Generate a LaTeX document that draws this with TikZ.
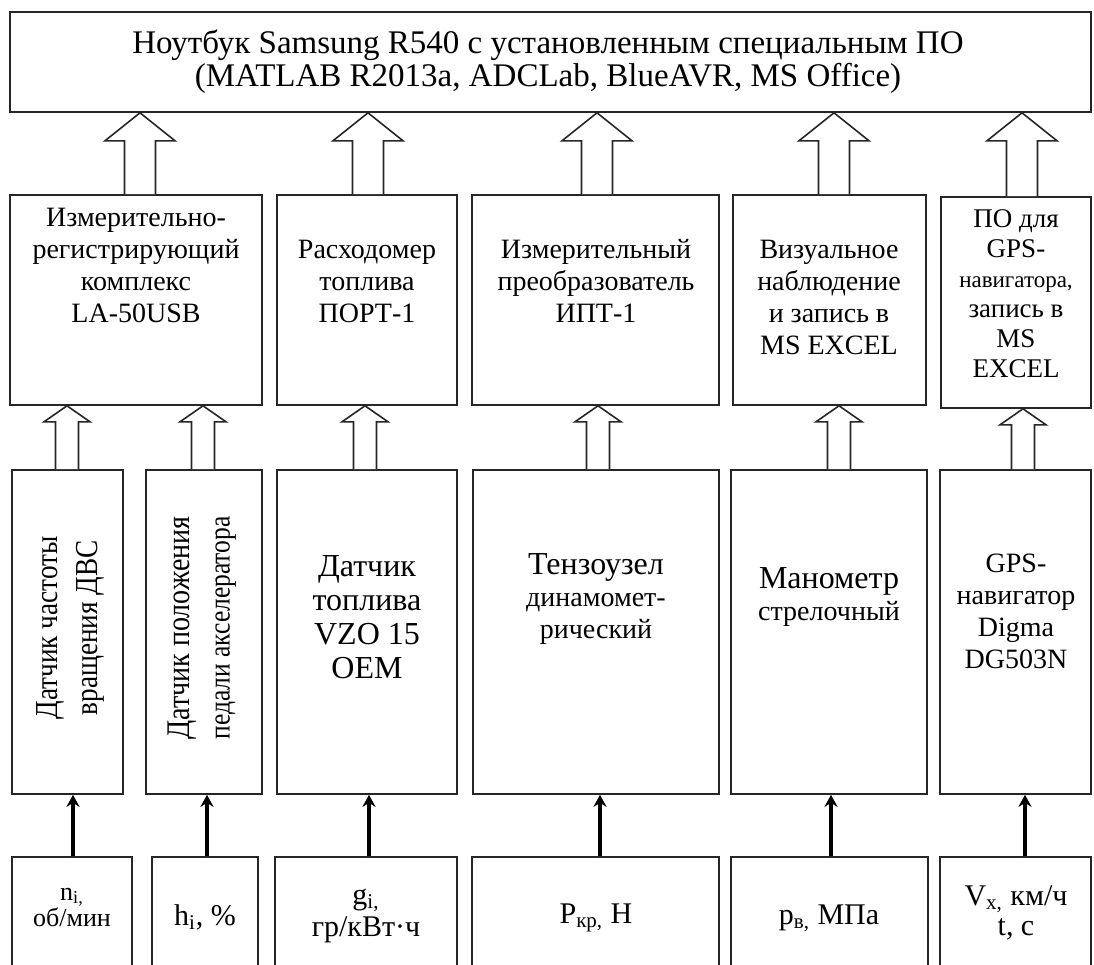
\documentclass[tikz,border=0pt]{standalone}
\usepackage{fontspec}
\setmainfont{Liberation Serif}
\newfontfamily\narrowserif[FakeStretch=0.85]{Liberation Serif}
\usetikzlibrary{arrows.meta, calc, fit, positioning}

\newdimen\px \px=0.5pt
\newcommand\fs[2]{\fontsize{#1}{#2}\selectfont}

\tikzset{
  box/.style={draw=black!85, line width=0.8pt, inner sep=0pt},
  txt/.style={align=center, inner sep=0pt},
  thinarrow/.style={line width=2pt, -{Stealth[length=6pt, width=6.5pt]}},
}

% hollow block arrow: #1 foot, #2 tip, #3 half head, #4 half shaft, #5 head length
\newcommand\blockarrow[5]{%
  \draw[box, fill=white] let \p1=(#1), \p2=(#2) in
    (\x1-#4,\y1) -- (\x1-#4,\y2-#5) -- (\x1-#3,\y2-#5) -- (\x1,\y2)
    -- (\x1+#3,\y2-#5) -- (\x1+#4,\y2-#5) -- (\x1+#4,\y1);}

\begin{document}
\begin{tikzpicture}[x=0.5pt, y=-0.5pt]
  \useasboundingbox (0,0) rectangle (1094,965);
  \clip (0,0) rectangle (1094,965);

  % notebook
  \node[box, fit={(10,12) (1091,112)}] (pc) {};
  \node[txt, font=\fs{16.5}{16.5}] (pc-t) at (548,62)
    {Ноутбук Samsung R540 с установленным специальным ПО\\(MATLAB R2013a, ADCLab, BlueAVR, MS Office)};

  % recording devices
  \node[box, fit={(10,195) (262,405)}]   (reg)   {};
  \node[box, fit={(277,195) (457,405)}]  (flow)  {};
  \node[box, fit={(472,195) (719,405)}]  (conv)  {};
  \node[box, fit={(733,195) (926,405)}]  (vis)   {};
  \node[box, fit={(941,197) (1091,408)}] (gpssw) {};

  \node[txt, font=\fs{14}{16}] (reg-t)  at (136,265) {Измерительно-\\регистрирующий\\комплекс\\LA-50USB};
  \node[txt, font=\fs{14}{16}] (flow-t) at (367,281) {Расходомер\\топлива\\ПОРТ-1};
  \node[txt, font=\fs{14}{16}] (conv-t) at (596,281) {Измерительный\\преобразователь\\ИПТ-1};
  \node[txt, font=\fs{14}{16}] (vis-t)  at (829,297) {Визуальное\\наблюдение\\и запись в\\MS EXCEL};
  \node[txt, font=\fs{13.5}{15}] (gpssw-t) at (1016,294)
    {ПО для\\GPS-\\{\fs{11.5}{15}навигатора,}\\запись в\\MS\\EXCEL};

  % sensors
  \node[box, fit={(12,470) (123,794)}]   (srpm)   {};
  \node[box, fit={(146,470) (262,794)}]  (spedal) {};
  \node[box, fit={(277,470) (457,794)}]  (sfuel)  {};
  \node[box, fit={(473,470) (719,794)}]  (sload)  {};
  \node[box, fit={(731,470) (927,794)}]  (sman)   {};
  \node[box, fit={(940,470) (1091,794)}] (sgps)   {};

  \node[txt, rotate=90, font=\narrowserif\fs{16}{20}] (srpm-t) at (70,628) {Датчик частоты\\вращения ДВС};
  \node[txt, rotate=90, font=\narrowserif\fs{15}{20}] (spedal-t) at (202,628)
    {{\fs{16.5}{20}Датчик положения}\\педали акселератора};
  \node[txt, font=\fs{16}{17}] (sfuel-t) at (367,617) {Датчик\\топлива\\VZO 15\\OEM};
  \node[txt, font=\fs{14}{16}] (sload-t) at (596,599) {{\fs{16}{16}Тензоузел}\\динамомет-\\рический};
  \node[txt, font=\fs{14}{16}] (sman-t)  at (829,597) {{\fs{16}{16}Манометр}\\стрелочный};
  \node[txt, font=\fs{14}{16}] (sgps-t)  at (1016,611) {GPS-\\навигатор\\Digma\\DG503N};

  % measured values
  \node[box, fit={(12,857) (132,990)}]  (vn)  {};
  \node[box, fit={(152,857) (258,990)}] (vh)  {};
  \node[box, fit={(275,857) (457,990)}] (vg)  {};
  \node[box, fit={(472,857) (719,990)}] (vp)  {};
  \node[box, fit={(731,857) (928,990)}] (vpb) {};
  \node[box, fit={(940,857) (1091,990)}] (vv) {};

  \node[txt, font=\fs{13}{13}] (vn-t)  at (72,907)  {n\textsubscript{i,}\\об/мин};
  \node[txt, font=\fs{15}{15}] (vh-t)  at (205,917) {h\textsubscript{i}, \%};
  \node[txt, font=\fs{15}{16}] (vg-t)  at (366,916) {g\textsubscript{i,}\\гр/кВт·ч};
  \node[txt, font=\fs{15}{15}] (vp-t)  at (596,918) {P\textsubscript{кр,} Н};
  \node[txt, font=\fs{15}{15}] (vpb-t) at (829,918) {p\textsubscript{в,} МПа};
  \node[txt, font=\fs{15}{15}] (vv-t)  at (1016,913) {V\textsubscript{x,} км/ч\\t, с};

  % hollow arrows to the notebook
  \blockarrow{140,0 |- reg.north}{pc.south}{35\px}{15.5\px}{28\px}
  \blockarrow{368,0 |- flow.north}{pc.south}{35\px}{15.5\px}{28\px}
  \blockarrow{597,0 |- conv.north}{pc.south}{35\px}{15.5\px}{28\px}
  \blockarrow{834,0 |- vis.north}{pc.south}{35\px}{15.5\px}{28\px}
  \blockarrow{1022,0 |- gpssw.north}{pc.south}{35\px}{15.5\px}{28\px}

  % hollow arrows from the sensors
  \blockarrow{67,0 |- srpm.north}{reg.south}{23\px}{11.5\px}{16\px}
  \blockarrow{203,0 |- spedal.north}{reg.south}{23\px}{11.5\px}{16\px}
  \blockarrow{365,0 |- sfuel.north}{flow.south}{23\px}{11.5\px}{16\px}
  \blockarrow{598,0 |- sload.north}{conv.south}{23\px}{11.5\px}{16\px}
  \blockarrow{839,0 |- sman.north}{vis.south}{23\px}{11.5\px}{16\px}
  \blockarrow{1023,0 |- sgps.north}{gpssw.south}{23\px}{11.5\px}{16\px}

  % values into the sensors
  \draw[thinarrow] (73,0 |- vn.north)    -- (73,0 |- srpm.south);
  \draw[thinarrow] (207,0 |- vh.north)   -- (207,0 |- spedal.south);
  \draw[thinarrow] (369,0 |- vg.north)   -- (369,0 |- sfuel.south);
  \draw[thinarrow] (600,0 |- vp.north)   -- (600,0 |- sload.south);
  \draw[thinarrow] (831,0 |- vpb.north)  -- (831,0 |- sman.south);
  \draw[thinarrow] (1025,0 |- vv.north)  -- (1025,0 |- sgps.south);
\end{tikzpicture}
\end{document}
